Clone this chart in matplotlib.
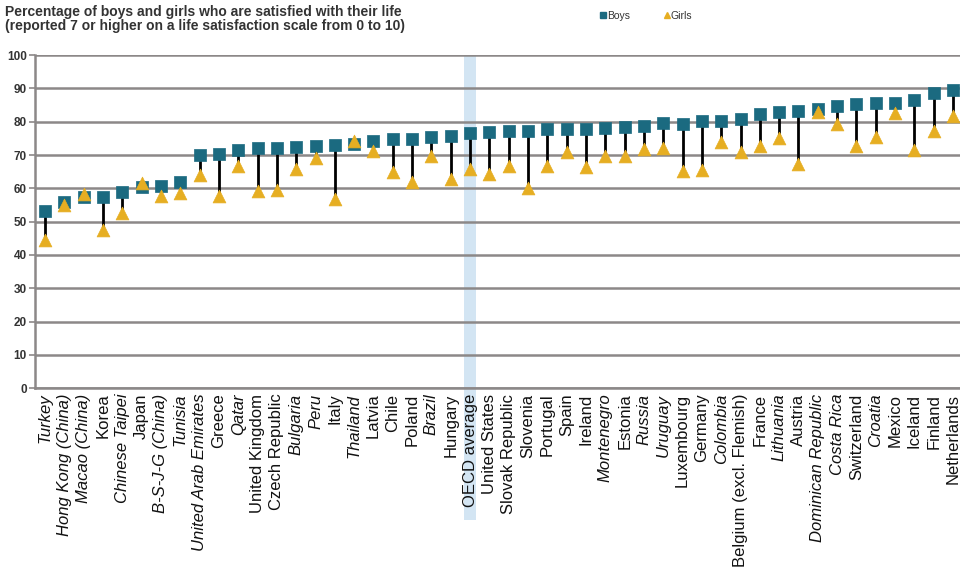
import matplotlib
matplotlib.use("Agg")
import matplotlib.pyplot as plt
import matplotlib.transforms as mtransforms
from matplotlib.patches import Rectangle
from matplotlib.lines import Line2D

plt.rcParams['font.family'] = ['Liberation Sans', 'DejaVu Sans']

# --- data ---
countries = [
    "Turkey", "Hong Kong (China)", "Macao (China)", "Korea", "Chinese Taipei",
    "Japan", "B-S-J-G (China)", "Tunisia", "United Arab Emirates", "Greece",
    "Qatar", "United Kingdom", "Czech Republic", "Bulgaria", "Peru", "Italy",
    "Thailand", "Latvia", "Chile", "Poland", "Brazil", "Hungary", "OECD average",
    "United States", "Slovak Republic", "Slovenia", "Portugal", "Spain",
    "Ireland", "Montenegro", "Estonia", "Russia", "Uruguay", "Luxembourg",
    "Germany", "Colombia", "Belgium (excl. Flemish)", "France", "Lithuania",
    "Austria", "Dominican Republic", "Costa Rica", "Switzerland", "Croatia",
    "Mexico", "Iceland", "Finland", "Netherlands",
]
boys = [53.1, 56.0, 57.4, 57.5, 58.9, 60.4, 60.6, 61.9, 70.0, 70.2,
        71.5, 72.0, 72.0, 72.4, 72.7, 73.1, 73.4, 74.3, 74.9, 74.9,
        75.5, 75.6, 76.5, 76.8, 77.1, 77.1, 77.8, 77.8, 77.8, 78.1,
        78.5, 78.6, 79.5, 79.3, 80.1, 80.1, 80.8, 82.3, 83.0, 83.1,
        83.8, 84.6, 85.3, 85.6, 85.6, 86.5, 88.5, 89.5]
girls = [44.4, 55.0, 58.4, 47.4, 52.6, 61.6, 57.6, 58.6, 64.0, 57.6,
         66.7, 59.2, 59.4, 65.9, 69.0, 56.9, 74.3, 71.1, 65.0, 61.9,
         69.8, 62.9, 65.9, 64.4, 66.6, 60.1, 66.6, 70.8, 66.3, 69.8,
         69.8, 71.9, 72.2, 65.2, 65.6, 73.8, 70.8, 72.8, 75.1, 67.4,
         82.8, 79.3, 72.8, 75.5, 82.5, 71.5, 77.1, 81.8]
italic_names = {
    "Turkey", "Hong Kong (China)", "Macao (China)", "Chinese Taipei",
    "B-S-J-G (China)", "Tunisia", "United Arab Emirates", "Qatar", "Bulgaria",
    "Peru", "Thailand", "Brazil", "Montenegro", "Russia", "Uruguay",
    "Colombia", "Lithuania", "Dominican Republic", "Costa Rica", "Croatia",
}
highlight = "OECD average"
yticks = list(range(0, 101, 10))

BOY_COL = "#1b6a80"
GIRL_COL = "#e6ae22"
GRID_COL = "#8c8888"
TEXT_COL = "#333333"

fig = plt.figure(figsize=(9.6, 5.75), dpi=100)
ax = fig.add_axes([0.0365, 0.325, 0.9635, 0.579])

x = list(range(len(countries)))

# gap lines
for xi, b, g in zip(x, boys, girls):
    ax.plot([xi, xi], [b, g], color="black", lw=2, zorder=3)

ax.scatter(x, boys, marker="s", s=80, color=BOY_COL, zorder=4,
           edgecolors=BOY_COL, linewidths=0.5)
ax.scatter(x, girls, marker="^", s=85, color=GIRL_COL, zorder=5,
           edgecolors=GIRL_COL, linewidths=0.5)

# OECD average highlight band, reaching into the label area
hi = countries.index(highlight)
trans = mtransforms.blended_transform_factory(ax.transData, ax.transAxes)
ax.add_patch(Rectangle((hi - 0.32, -0.395), 0.64, 1.395, transform=trans,
                       facecolor="#d3e5f3", edgecolor="none", zorder=0,
                       clip_on=False))

ax.set_ylim(0, 100)
ax.set_xlim(-0.52, 47.36)
ax.set_yticks(yticks)
ax.yaxis.grid(True, color=GRID_COL, lw=1.8, zorder=1)
ax.set_axisbelow(True)
ax.tick_params(axis="y", length=4, width=1.2, color=GRID_COL, pad=2,
               labelsize=8.5, labelcolor=TEXT_COL)
for lab in ax.get_yticklabels():
    lab.set_fontweight("bold")

ax.set_xticks(x)
ax.set_xticklabels(countries, rotation=90, fontsize=12, color="#111111")
ax.tick_params(axis="x", length=0, pad=4)
for lab in ax.get_xticklabels():
    if lab.get_text() in italic_names:
        lab.set_fontstyle("italic")

for side in ["top", "right"]:
    ax.spines[side].set_visible(False)
ax.spines["left"].set_color(GRID_COL)
ax.spines["left"].set_linewidth(1.8)
ax.spines["bottom"].set_color(GRID_COL)
ax.spines["bottom"].set_linewidth(1.8)

fig.text(0.005, 0.992,
         "Percentage of boys and girls who are satisfied with their life\n"
         "(reported 7 or higher on a life satisfaction scale from 0 to 10)",
         ha="left", va="top", fontsize=10, fontweight="bold",
         color=TEXT_COL, linespacing=1.05)

handles = [
    Line2D([], [], marker="s", linestyle="none", color=BOY_COL, markersize=5),
    Line2D([], [], marker="^", linestyle="none", color=GIRL_COL, markersize=5),
]
fig.legend(handles, ["Boys", "Girls"], loc="center left",
           bbox_to_anchor=(0.615, 0.972), ncol=2, frameon=False,
           fontsize=7.5, handlelength=0.6, handletextpad=0.1,
           columnspacing=3.2, labelcolor=TEXT_COL)

fig.savefig("out.png", dpi=100)
